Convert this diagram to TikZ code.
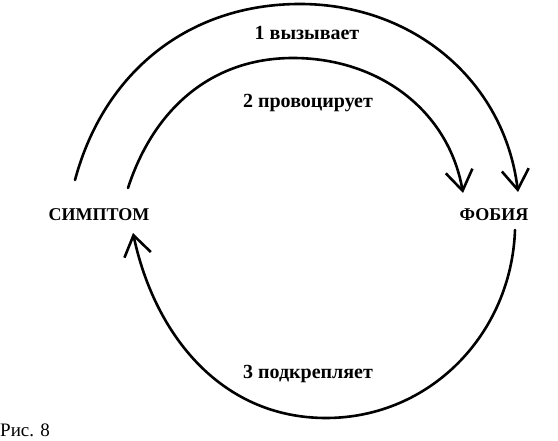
\documentclass[tikz,border=0pt]{standalone}
\usepackage{fontspec}
\setmainfont{Liberation Serif}
\usetikzlibrary{arrows.meta}
\begin{document}
\begin{tikzpicture}[x=1pt,y=1pt,
  arc/.style={line width=2.6pt, line cap=round,
    -{Straight Barb[length=20pt,width=27pt,line width=2.6pt]}},
  lbl/.style={font=\bfseries\fontsize{18}{20}\selectfont, inner sep=0pt},
  figcaption/.style={font=\fontsize{19}{21}\selectfont, inner sep=0pt}]
\useasboundingbox (0,0) rectangle (558,440);
\node[lbl] (symptom) at (99,225) {СИМПТОМ};
\node[lbl] (phobia) at (494,225) {ФОБИЯ};
\node[lbl, font=\bfseries\fontsize{20}{22}\selectfont] (l1) at (307,407) {1 вызывает};
\node[lbl, font=\bfseries\fontsize{20}{22}\selectfont] (l2) at (308,337) {2 провоцирует};
\node[lbl, font=\bfseries\fontsize{20}{22}\selectfont] (l3) at (308,66) {3 подкрепляет};
\node[figcaption, anchor=south west] (fig) at (0,3) {Рис. 8};
% endpoints
\coordinate (o1s) at (75,260);
\coordinate (o1t) at (300,436);
\coordinate (o1e) at (518,248);
\coordinate (o2s) at (128,252);
\coordinate (o2t) at (293,382);
\coordinate (o2e) at (463,247);
\coordinate (o3s) at (515,210);
\coordinate (o3b) at (326,22);
\coordinate (o3e) at (133,207);
\draw[arc] (o1s) to[out=75,in=180] (o1t) to[out=0,in=97] (o1e);
\draw[arc] (o2s) to[out=72,in=180] (o2t) to[out=0,in=100] (o2e);
\draw[arc] (o3s) to[out=-92,in=0] (o3b) to[out=180,in=-78] (o3e);
\end{tikzpicture}
\end{document}
